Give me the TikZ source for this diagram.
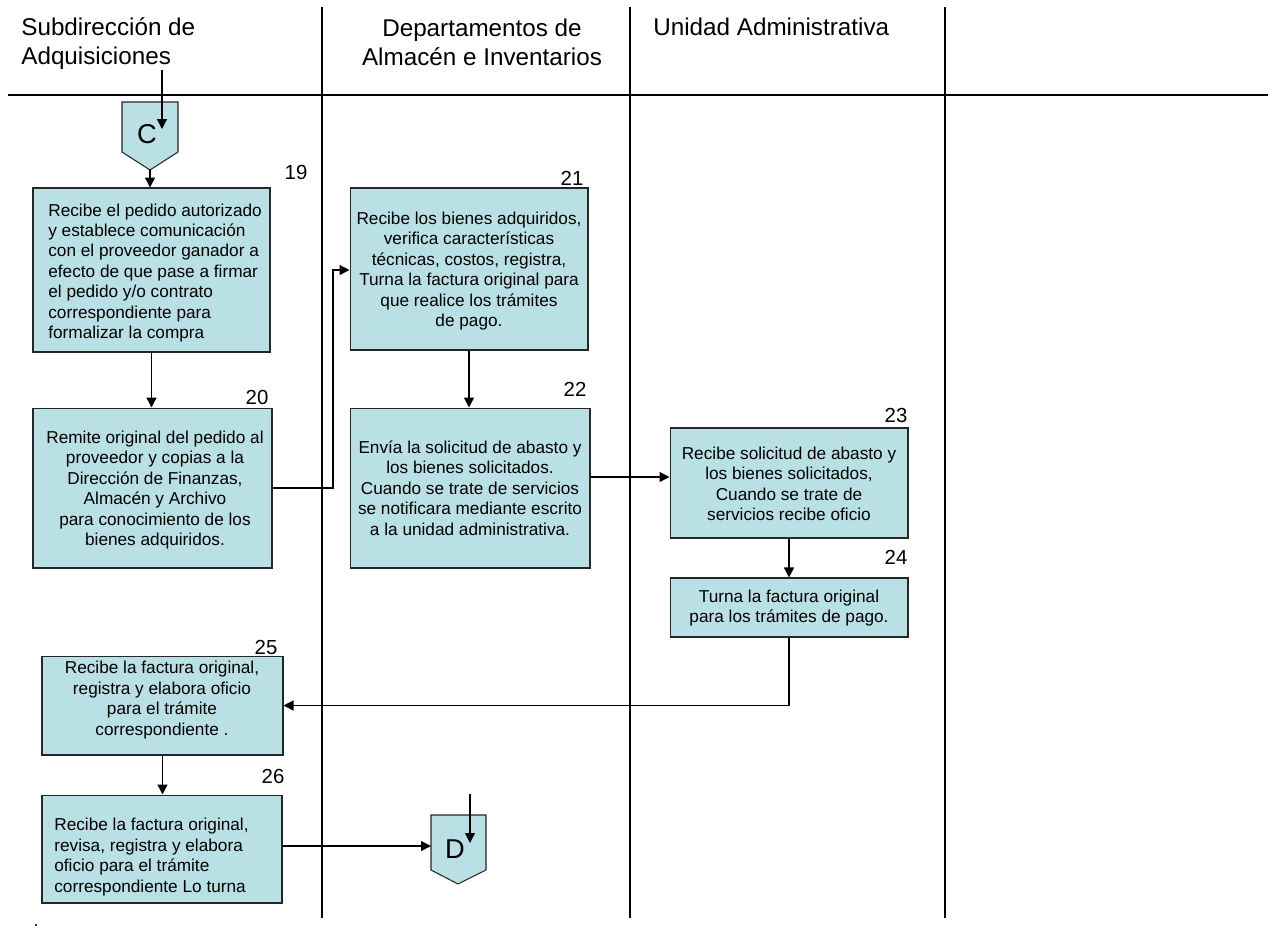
\documentclass[tikz,border=0pt]{standalone}
\usepackage{fontspec}
\setmainfont{Liberation Sans}
\usetikzlibrary{arrows.meta}
\definecolor{boxfill}{RGB}{185,224,228}
\begin{document}
\begin{tikzpicture}[x=0.02cm,y=-0.02cm,
  lane/.style={line width=0.7pt,black},
  procbox/.style={draw=black!85,line width=0.6pt,fill=boxfill,inner sep=0pt},
  boxtext/.style={font=\fontsize{9.8}{11.65}\selectfont,align=center,inner sep=0pt},
  stepnum/.style={font=\fontsize{11.6}{13}\selectfont,inner sep=0pt},
  head/.style={font=\fontsize{13.8}{16.5}\selectfont,inner sep=0pt},
  flow/.style={line width=0.75pt,-{Triangle[length=2mm,width=2mm]}}]
\useasboundingbox (0,0) rectangle (1273,948);

% swimlane grid
\coordinate (l1t) at (322,7);  \coordinate (l1b) at (322,918);
\coordinate (l2t) at (630,7);  \coordinate (l2b) at (630,918);
\coordinate (l3t) at (945,7);  \coordinate (l3b) at (945,918);
\coordinate (hl) at (8,95);    \coordinate (hr) at (1268,95);
\draw[lane] (l1t) -- (l1b);
\draw[lane] (l2t) -- (l2b);
\draw[lane] (l3t) -- (l3b);
\draw[lane] (hl) -- (hr);

% lane titles
\node[head,anchor=west,align=left] (h1) at (21,44) {Subdirección de\\Adquisiciones};
\node[head,align=center] (h2) at (482,42) {Departamentos de\\Almacén e Inventarios};
\node[head,anchor=west] (h3) at (653,27) {Unidad Administrativa};

% off-page connector C
\draw[procbox] (122,102) -- (178,102) -- (178,152) -- (150,170) -- (122,152) -- cycle;
\node[font=\fontsize{15.5}{17}\selectfont,inner sep=0pt] (C) at (147,134) {C};
\coordinate (Cin) at (162,70);
\coordinate (Cend) at (162,129);
\coordinate (Ctip) at (150,170);
\draw[flow] (Cin) -- (Cend);

% process boxes
\node[procbox,minimum width=4.74cm,minimum height=3.28cm] (b19) at (151.5,270) {};
\node[boxtext,align=left,anchor=west] (t19) at (48,273) {Recibe el pedido autorizado\\y establece comunicación\\con el proveedor ganador a\\efecto de que pase a firmar\\el pedido y/o contrato\\correspondiente para\\formalizar la compra};
\node[stepnum] (n19) at (296,172) {19};

\node[procbox,minimum width=4.78cm,minimum height=3.2cm] (b20) at (152.5,488) {};
\node[boxtext] (t20) at (155,490) {Remite original del pedido al\\proveedor y copias a la\\Dirección de Finanzas,\\Almacén y Archivo\\para conocimiento de los\\bienes adquiridos.};
\node[stepnum] (n20) at (257,397) {20};

\node[procbox,minimum width=4.76cm,minimum height=3.24cm] (b21) at (469,269) {};
\node[boxtext] (t21) at (469,271) {Recibe los bienes adquiridos,\\verifica características\\técnicas, costos, registra,\\Turna la factura original para\\que realice los trámites\\de pago.};
\node[stepnum] (n21) at (572,178) {21};

\node[procbox,minimum width=4.8cm,minimum height=3.2cm] (b22) at (470,488) {};
\node[boxtext] (t22) at (470,488) {Envía la solicitud de abasto y\\los bienes solicitados.\\Cuando se trate de servicios\\se notificara mediante escrito\\a la unidad administrativa.};
\node[stepnum] (n22) at (575,389) {22};

\node[procbox,minimum width=4.76cm,minimum height=2.2cm] (b23) at (789,483) {};
\node[boxtext] (t23) at (789,484) {Recibe solicitud de abasto y\\los bienes solicitados,\\Cuando se trate de\\servicios recibe oficio};
\node[stepnum] (n23) at (896,415) {23};

\node[procbox,minimum width=4.76cm,minimum height=1.18cm] (b24) at (789,607.5) {};
\node[boxtext] (t24) at (789,608) {Turna la factura original\\para los trámites de pago.};
\node[stepnum] (n24) at (896,557) {24};

\node[procbox,minimum width=4.82cm,minimum height=1.98cm] (b25) at (162.5,705.5) {};
\node[boxtext] (t25) at (162,700) {Recibe la factura original,\\registra y elabora oficio\\para el trámite\\correspondiente .};
\node[stepnum] (n25) at (266,647) {25};

\node[procbox,minimum width=4.8cm,minimum height=2.16cm] (b26) at (162,849) {};
\node[boxtext,align=left,anchor=west] (t26) at (54,857) {Recibe la factura original,\\revisa, registra y elabora\\oficio para el trámite\\correspondiente Lo turna};
\node[stepnum] (n26) at (273,776) {26};

\node[font=\fontsize{10}{12}\selectfont,inner sep=0pt] (dot) at (36,926) {.};

% off-page connector D
\draw[procbox] (431,815) -- (486,815) -- (486,870) -- (458,884) -- (431,870) -- cycle;
\node[font=\fontsize{15.5}{17}\selectfont,inner sep=0pt] (D) at (455,849) {D};
\coordinate (Dleft) at (431,846);
\coordinate (Din) at (470,794);
\coordinate (Dend) at (470,843);
\draw[flow] (Din) -- (Dend);

% flow connectors
\coordinate (r22) at (590,477);
\draw[flow] (Ctip) -- (Ctip |- b19.north);
\draw[flow] (b19.south) -- (b19.south |- b20.north);
\draw[flow] (b20.east) -| (333,270) -- (b21.west |- 0,270);
\draw[flow] (b21.south) -- (b21.south |- b22.north);
\draw[flow] (r22) -- (r22 -| b23.west);
\draw[flow] (b23.south) -- (b23.south |- b24.north);
\draw[flow] (b24.south) |- (b25.east);
\draw[flow] (b25.south) -- (b25.south |- b26.north);
\draw[flow] (b26.east |- Dleft) -- (Dleft);
\end{tikzpicture}
\end{document}
